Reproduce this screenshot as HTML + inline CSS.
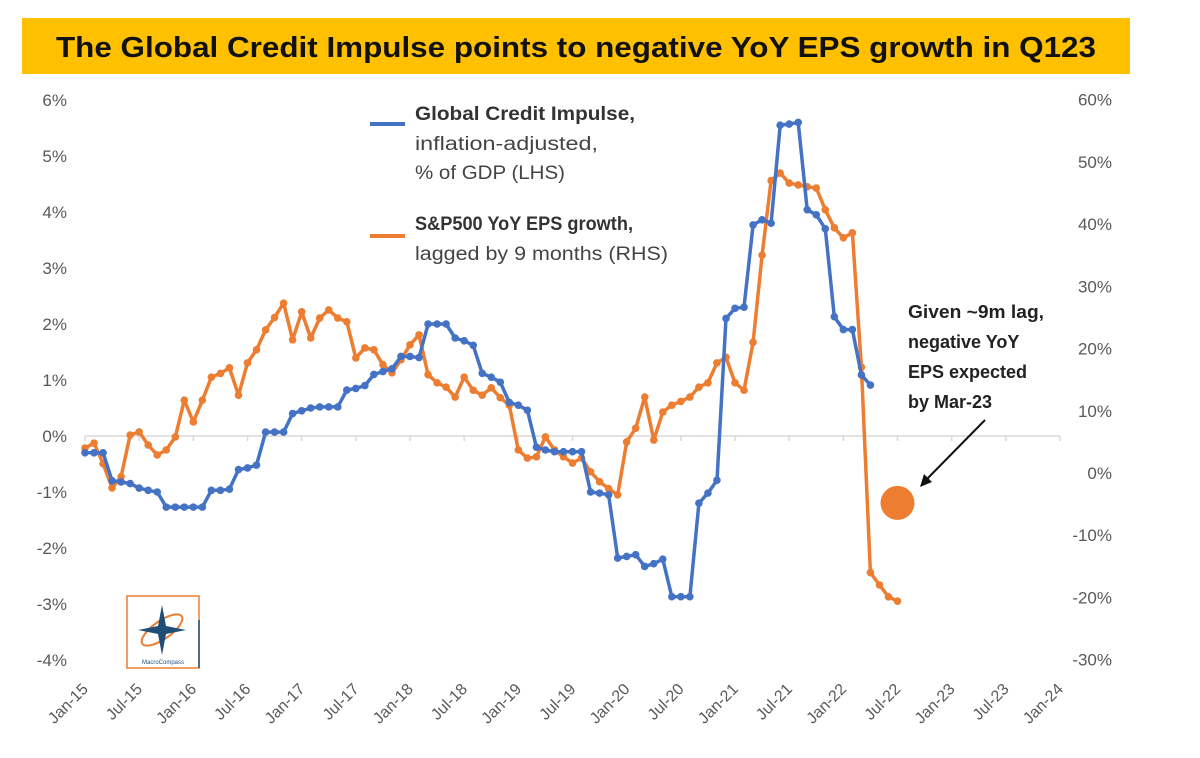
<!DOCTYPE html>
<html><head><meta charset="utf-8"><style>
html,body{margin:0;padding:0;background:#fff;}
svg text{font-family:"Liberation Sans",sans-serif;}
</style></head><body>
<svg id="chart" width="1200" height="753" viewBox="0 0 1200 753" xmlns="http://www.w3.org/2000/svg">
<rect x="0" y="0" width="1200" height="753" fill="#fff"/>
<rect x="22" y="18" width="1108" height="56" fill="#FFC000"/>
<text x="576" y="57" text-anchor="middle" font-size="29" font-weight="bold" fill="#111" textLength="1040" lengthAdjust="spacingAndGlyphs">The Global Credit Impulse points to negative YoY EPS growth in Q123</text>
<g id="axes"></g>
<g id="series"></g>
<g>
<line x1="370" y1="124" x2="405" y2="124" stroke="#4472C4" stroke-width="4"/>
<text x="415" y="120" font-size="19" font-weight="bold" fill="#333" textLength="220" lengthAdjust="spacingAndGlyphs">Global Credit Impulse,</text>
<text x="415" y="150" font-size="19" fill="#444" textLength="183" lengthAdjust="spacingAndGlyphs">inflation-adjusted,</text>
<text x="415" y="179" font-size="19" fill="#444" textLength="150" lengthAdjust="spacingAndGlyphs">% of GDP (LHS)</text>
<line x1="370" y1="236" x2="405" y2="236" stroke="#ED7D31" stroke-width="4"/>
<text x="415" y="230" font-size="19" font-weight="bold" fill="#333" textLength="218" lengthAdjust="spacingAndGlyphs">S&amp;P500 YoY EPS growth,</text>
<text x="415" y="260" font-size="19" fill="#444" textLength="253" lengthAdjust="spacingAndGlyphs">lagged by 9 months (RHS)</text>
</g>
<g font-size="18" font-weight="bold" fill="#222">
<text x="908" y="318" textLength="136" lengthAdjust="spacingAndGlyphs">Given ~9m lag,</text>
<text x="908" y="348">negative YoY</text>
<text x="908" y="378">EPS expected</text>
<text x="908" y="408">by Mar-23</text>
<line x1="985" y1="420" x2="926" y2="480" stroke="#111" stroke-width="2"/>
<polygon points="920,487 924,474 932,482" fill="#111"/>
</g>
<g>
<rect x="127" y="596" width="72" height="72" fill="#fff" stroke="#ED7D31" stroke-width="1.5"/>
<line x1="199" y1="620" x2="199" y2="668" stroke="#1F4E79" stroke-width="1.5"/>
<ellipse cx="162" cy="630" rx="24" ry="9" fill="none" stroke="#ED7D31" stroke-width="2" transform="rotate(-35 162 630)"/>
<polygon points="162,605 166,626 186,630 166,634 162,655 158,634 138,630 158,626" fill="#1F4E79"/>
<text x="163" y="664" font-size="6" text-anchor="middle" fill="#1F4E79">MacroCompass</text>
</g>
</svg>
<script>
const yLeftTicks=[6,5,4,3,2,1,0,-1,-2,-3,-4];
const yRightTicks=[60,50,40,30,20,10,0,-10,-20,-30];
const xTickLabels=["Jan-15","Jul-15","Jan-16","Jul-16","Jan-17","Jul-17","Jan-18","Jul-18","Jan-19","Jul-19","Jan-20","Jul-20","Jan-21","Jul-21","Jan-22","Jul-22","Jan-23","Jul-23","Jan-24"];
const creditImpulse=[-0.3,-0.3,-0.3,-0.8,-0.82,-0.85,-0.93,-0.97,-1.0,-1.27,-1.27,-1.27,-1.27,-1.27,-0.97,-0.97,-0.95,-0.6,-0.57,-0.52,0.07,0.07,0.07,0.4,0.45,0.5,0.52,0.52,0.52,0.82,0.85,0.9,1.1,1.15,1.2,1.42,1.42,1.4,2.0,2.0,2.0,1.75,1.7,1.62,1.12,1.05,0.96,0.6,0.55,0.46,-0.2,-0.25,-0.28,-0.28,-0.28,-0.28,-1.0,-1.02,-1.05,-2.18,-2.15,-2.12,-2.33,-2.28,-2.2,-2.87,-2.87,-2.87,-1.2,-1.02,-0.79,2.1,2.28,2.3,3.77,3.86,3.8,5.55,5.57,5.6,4.04,3.95,3.7,2.13,1.9,1.9,1.09,0.91];
const epsGrowth=[4.0,4.8,1.5,-2.4,-0.6,6.1,6.6,4.5,2.9,3.7,5.8,11.7,8.2,11.7,15.4,16,16.9,12.5,17.7,19.8,23,25,27.3,21.4,25.9,21.7,24.9,26.2,24.9,24.3,18.5,20.1,19.8,17.4,16.1,18.2,20.6,22.2,15.8,14.5,13.8,12.2,15.4,13.3,12.5,13.7,12.1,10.9,3.7,2.4,2.6,5.8,3.7,2.6,1.6,2.4,0.2,-1.4,-2.5,-3.5,5.0,7.2,12.2,5.3,9.8,10.9,11.5,12.2,13.8,14.5,17.7,18.6,14.5,13.3,21,35,47,48.2,46.6,46.3,46,45.8,42.3,39.4,37.8,38.6,17,-16,-18,-19.9,-20.6];
const forecastMonth=[90];
const forecastValue=[-4.8];

const NS="http://www.w3.org/2000/svg";
const x=m=>85+m*9.028;
const yL=v=>436-v*56;
const yR=v=>473-v*6.222;
function mk(tag,attrs,parent){const e=document.createElementNS(NS,tag);for(const k in attrs)e.setAttribute(k,attrs[k]);parent.appendChild(e);return e;}
const axes=document.getElementById('axes');
const series=document.getElementById('series');

const base=mk('line',{x1:x(0),y1:yL(0),x2:x(108),y2:yL(0),stroke:'#d9d9d9','stroke-width':1.5},axes);


xTickLabels.forEach((lab,i)=>{
  const xx=x(i*6);
  const t=mk('line',{x1:xx,y1:yL(0),x2:xx,y2:yL(0)+5,stroke:'#d9d9d9','stroke-width':1.5},axes);
  
  
  const tx=mk('text',{x:xx+4,y:690,'font-size':16,fill:'#595959','text-anchor':'end',transform:`rotate(-45 ${xx+4} 690)`},axes);
  tx.textContent=lab;
  
  
});
yLeftTicks.forEach(v=>{
  const t=mk('text',{x:67,y:yL(v)+6,'font-size':17,fill:'#595959','text-anchor':'end'},axes);
  t.textContent=v+'%';
  
  
});
yRightTicks.forEach(v=>{
  const t=mk('text',{x:1112,y:yR(v)+6,'font-size':17,fill:'#595959','text-anchor':'end'},axes);
  t.textContent=v+'%';
  
  
});

function drawSeries(vals,yf,color,name){
  const g=mk('g',{},series);
  
  
  const pts=vals.map((v,i)=>x(i).toFixed(1)+','+yf(v).toFixed(1)).join(' ');
  const pl=mk('polyline',{points:pts,fill:'none',stroke:color,'stroke-width':3.5,'stroke-linejoin':'round'},g);
  
  
  vals.forEach((v,i)=>{
    const c=mk('circle',{cx:x(i),cy:yf(v),r:3.8,fill:color},g);
    
    
  });
}
drawSeries(epsGrowth,yR,'#ED7D31','eps-growth-series');
drawSeries(creditImpulse,yL,'#4472C4','credit-impulse-series');
forecastMonth.forEach((m,i)=>{
  const c=mk('circle',{cx:x(m),cy:yR(forecastValue[i]),r:17,fill:'#ED7D31'},series);
  
  
});
</script>
</body></html>
